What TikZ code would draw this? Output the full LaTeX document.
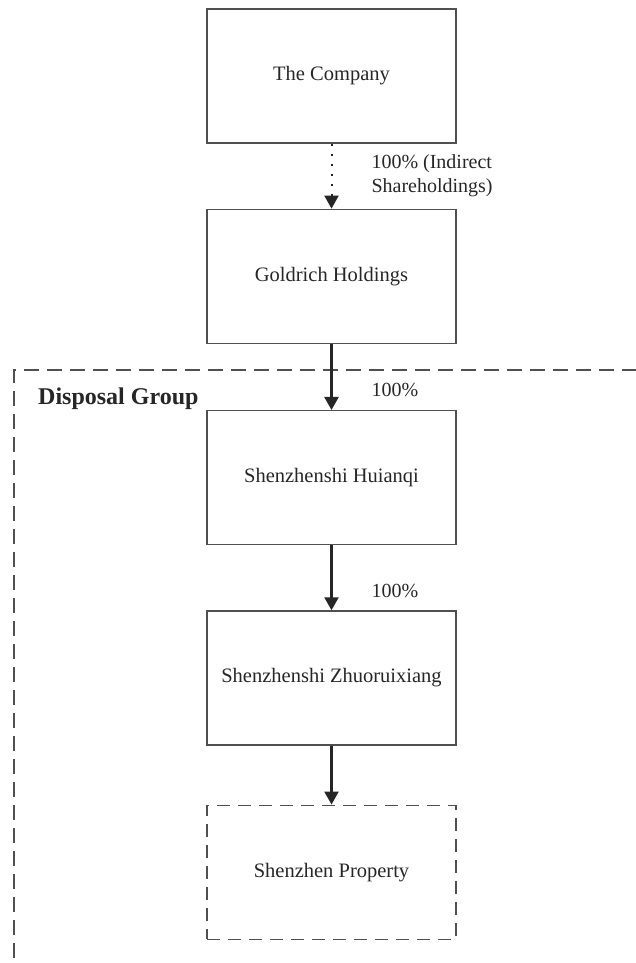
\documentclass[tikz,border=0pt]{standalone}
\usepackage{fontspec}
\setmainfont{Liberation Serif}
\usepackage{tikz}
\usetikzlibrary{arrows.meta,positioning,calc}

\definecolor{boxgray}{HTML}{505050}
\definecolor{inkgray}{HTML}{262626}

\begin{document}
\begin{tikzpicture}[x=1pt,y=1pt,
  entity/.style={draw=boxgray,line width=1.3pt,minimum width=249pt,minimum height=134pt,
    inner sep=0pt,text=inkgray,font=\fontsize{20.5}{24}\selectfont},
  planned/.style={entity,dash pattern=on 13pt off 8pt},
  hold/.style={draw=inkgray,line width=2.4pt,-{Triangle[length=13pt,width=14pt]}},
  indirect/.style={hold,line width=2pt,dash pattern=on 2pt off 8pt},
  share/.style={inner sep=0pt,text=inkgray,align=left,font=\fontsize{20}{24}\selectfont},
  grp/.style={draw=boxgray,line width=1.3pt,dash pattern=on 15pt off 8pt}]
  \clip (0,0) rectangle (636,-963);
  % disposal group frame (runs off the page)
  \coordinate (dg) at (14,-370);
  \draw[grp] (660,-370) -- (dg) -- (14,-990);
  \node[anchor=base west,inner sep=0pt,text=inkgray,font=\fontsize{24}{28}\selectfont\bfseries]
    (dglabel) at ($(dg)+(24,-34)$) {Disposal Group};
  % chain of holdings
  \node[entity] (company) at (331.5,-76) {The Company};
  \node[entity,below=65pt of company] (goldrich) {Goldrich Holdings};
  \node[entity,below=66pt of goldrich] (huianqi) {Shenzhenshi Huianqi};
  \node[entity,below=65pt of huianqi] (zhuo) {Shenzhenshi Zhuoruixiang};
  \node[planned,below=59pt of zhuo] (property) {Shenzhen Property};
  % shareholding arrows
  \draw[indirect] (company) -- (goldrich)
    node[share,midway,right=39pt] {100\% (Indirect\\Shareholdings)};
  \draw[hold] (goldrich) -- (huianqi) node[share,pos=0.7,right=39pt] {100\%};
  \draw[hold] (huianqi) -- (zhuo) node[share,pos=0.7,right=39pt] {100\%};
  \draw[hold] (zhuo) -- (property);
\end{tikzpicture}
\end{document}
